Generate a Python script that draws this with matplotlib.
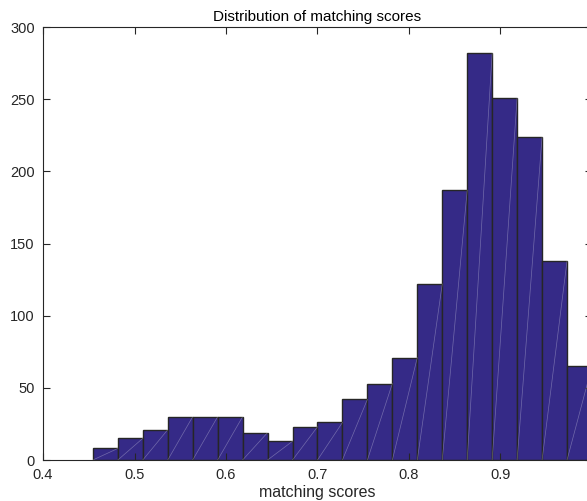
import numpy as np
import matplotlib
matplotlib.use("Agg")
import matplotlib.pyplot as plt

plt.rcParams['font.family'] = ['Liberation Sans', 'DejaVu Sans']

# Histogram data (20 bins from 0.4545 to 1.0)
bin_start = 0.4545
bin_end = 1.0
counts = [8, 15, 21, 30, 30, 30, 19, 13, 23, 26, 42, 53, 71, 122, 187, 282, 251, 224, 138, 65]
xticks = [0.4, 0.5, 0.6, 0.7, 0.8, 0.9]
xticklabels = ["0.4", "0.5", "0.6", "0.7", "0.8", "0.9"]
yticks = [0, 50, 100, 150, 200, 250, 300]
title = "Distribution of matching scores"
xlabel = "matching scores"

W, H = 587, 501
fig = plt.figure(figsize=(W / 100, H / 100), dpi=100)
left, right, bottom, top = 43, 592, 460, 27
ax = fig.add_axes([left / W, (H - bottom) / H, (right - left) / W, (bottom - top) / H])

edges = np.linspace(bin_start, bin_end, len(counts) + 1)
widths = np.diff(edges)
ax.bar(edges[:-1], counts, width=widths, align='edge', color='#352A87',
       edgecolor='#262626', linewidth=1.0)
# faint diagonal render artifacts
for x0, w, c in zip(edges[:-1], widths, counts):
    ax.plot([x0, x0 + w], [0, c], color='white', lw=0.5, alpha=0.3)

ax.set_xlim(0.4, 1.0)
ax.set_ylim(0, 300)
ax.set_xticks(xticks)
ax.set_xticklabels(xticklabels)
ax.set_yticks(yticks)
tc = '#262626'
ax.tick_params(direction='in', length=5, width=0.8, top=True, right=True,
               labelsize=10.5, colors=tc, pad=6)
for s in ax.spines.values():
    s.set_color(tc)
    s.set_linewidth(0.8)
ax.set_title(title, fontsize=11, color='black', pad=4)
ax.set_xlabel(xlabel, fontsize=11.5, color=tc, labelpad=2)

fig.savefig("out.png", dpi=100)
